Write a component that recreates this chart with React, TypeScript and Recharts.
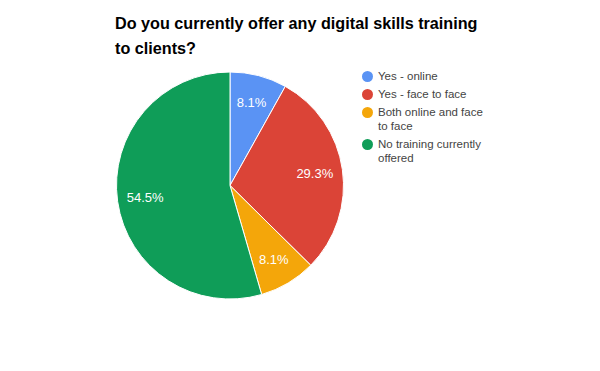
import React from "react";
import { PieChart, Pie, Cell } from "recharts";

const titleLines = ["Do you currently offer any digital skills training", "to clients?"];
const categories = ["Yes - online", "Yes - face to face", "Both online and face to face", "No training currently offered"];
const values = [8.1, 29.3, 8.1, 54.5];
const colors = ["#5a93f4", "#db4437", "#f4a60a", "#0f9d58"];

const data = categories.map((name, i) => ({ name, value: values[i] }));

const RAD = Math.PI / 180;
const FONT = "Arial, 'Liberation Sans', sans-serif";

const renderLabel = (props: any) => {
  const { cx, cy, midAngle, outerRadius, value } = props;
  const r = outerRadius * 0.755;
  const x = cx + r * Math.cos(-midAngle * RAD);
  const y = cy + r * Math.sin(-midAngle * RAD);
  return (
    <text x={x} y={y} fill="#ffffff" fontSize={13} fontFamily={FONT} textAnchor="middle" dominantBaseline="central">
      {value.toFixed(1)}%
    </text>
  );
};

function LegendBox() {
  return (
    <div style={{ position: "absolute", left: 362, top: 69, width: 130, fontFamily: FONT, fontSize: 11.5, color: "#444", lineHeight: "14px" }}>
      {data.map((d, i) => (
        <div key={d.name} style={{ display: "flex", alignItems: "flex-start", marginBottom: 4 }}>
          <span style={{ display: "inline-block", width: 11, height: 11, borderRadius: "50%", background: colors[i], marginTop: 1.5, marginRight: 5, flexShrink: 0 }} />
          <span style={{ width: 106 }}>{d.name}</span>
        </div>
      ))}
    </div>
  );
}

export default function App() {
  return (
    <div style={{ position: "absolute", left: 0, top: 0, width: 600, height: 371, background: "#fff" }}>
      <PieChart width={600} height={371} margin={{ top: 0, right: 0, bottom: 0, left: 0 }}>
        <text x={115} y={29} fontSize={16.2} fontWeight="bold" fontFamily={FONT} fill="#000">
          {titleLines[0]}
        </text>
        <text x={115} y={54} fontSize={16.2} fontWeight="bold" fontFamily={FONT} fill="#000">
          {titleLines[1]}
        </text>
        <Pie
          data={data}
          dataKey="value"
          nameKey="name"
          cx={230}
          cy={185.5}
          outerRadius={113.5}
          startAngle={90}
          endAngle={-270}
          stroke="#ffffff"
          strokeWidth={1}
          label={renderLabel}
          labelLine={false}
          isAnimationActive={false}
        >
          {data.map((d, i) => (
            <Cell key={d.name} fill={colors[i]} />
          ))}
        </Pie>
      </PieChart>
      <LegendBox />
    </div>
  );
}
